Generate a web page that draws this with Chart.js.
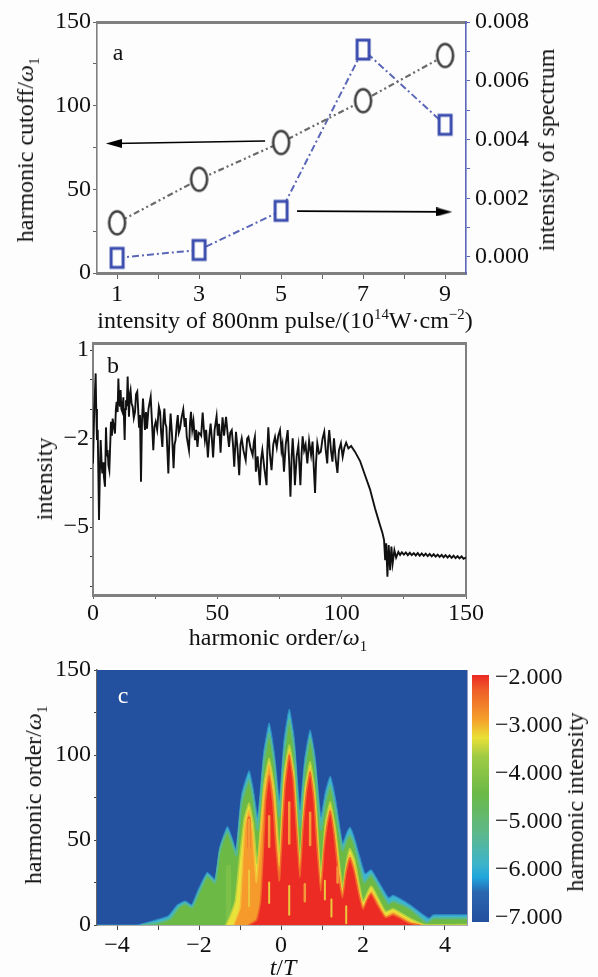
<!DOCTYPE html>
<html><head><meta charset="utf-8">
<script src="https://cdn.jsdelivr.net/npm/chart.js@4/dist/chart.umd.min.js"></script>
<style>
html,body{margin:0;padding:0;background:#fdfdfd;width:598px;height:977px;overflow:hidden}
canvas{position:absolute;left:0;filter:blur(.45px)}
.t{position:absolute;transform:translate(-50%,-50%);white-space:nowrap;font-family:"Liberation Serif",serif;font-size:24px;line-height:1;color:#111;filter:blur(.3px)}
.r{transform:translate(-50%,-50%) rotate(-90deg)}
.t sub,.t sup{font-size:.62em;line-height:0}
</style></head><body>
<canvas id="ca" width="598" height="330" style="top:0"></canvas>
<canvas id="cb" width="598" height="340" style="top:310px"></canvas>
<canvas id="cc" width="470" height="342" style="top:635px"></canvas>
<canvas id="cd" width="128" height="310" style="top:640px;left:470px"></canvas>
<div class="t r" style="left:25px;top:150px">harmonic cutoff/<i>ω</i><sub>1</sub></div>
<div class="t r" style="left:546px;top:150px">intensity of spectrum</div>
<div class="t" style="left:285px;top:320px">intensity of 800nm pulse/(10<sup>14</sup>W·cm<sup>−2</sup>)</div>
<div class="t" style="left:118px;top:52px">a</div>
<div class="t r" style="left:44px;top:479px">intensity</div>
<div class="t" style="left:278px;top:637px">harmonic order/<i>ω</i><sub>1</sub></div>
<div class="t" style="left:113px;top:365px">b</div>
<div class="t r" style="left:33px;top:795px">harmonic order/<i>ω</i><sub>1</sub></div>
<div class="t" style="left:283px;top:967px"><i>t</i>/<i>T</i></div>
<div class="t" style="left:123px;top:695px;color:#fff">c</div>
<div class="t r" style="left:575px;top:802px">harmonic intensity</div>
<script>
// ---------- panel a ----------
const pulseIntensity=[1,3,5,7,9];
const harmonicCutoff=[30,56,78,103,130];
const spectrumIntensity=[-0.00003,0.00024,0.00157,0.00706,0.0045];
const aXTicks=[1,2,3,4,5,6,7,8,9];
const aLeftTicks=[0,25,50,75,100,125,150];
const aRightTicks=[0,0.001,0.002,0.003,0.004,0.005,0.006,0.007,0.008];
const arrowLeft=[[4.61,78.9],[0.92,77.4]];
const arrowRight=[[5.39,37],[8.98,36.5]];
// ---------- panel b ----------
const spectrumLow=[[0,-2.84],[0.5,-1.0],[1.07,.21],[1.3,-1],[1.6,-2.05],[1.9,-1.7],[2.41,-4.76],[2.8,-3],[3.08,-2.05],[3.5,-2.9],[3.75,-3.18],[4.1,-2.8],[4.4,-3.3],[4.82,-3.63],[5.22,-1.62],[5.6,-2.6],[5.9,-2.39],[6.2,-2.9],[6.57,-3.07],[7.24,-1.43],[7.6,-1.9],[7.9,-1.32],[8.4,-1.6],[8.84,-1.83],[9.2,-1.0],[9.5,-.75],[9.9,-1.1],[10.2,.04],[10.5,-.7],[10.85,-.92],[11.1,-.35],[11.4,-1.0],[11.8,-1.09],[12.2,-.6],[12.73,-2.05],[13.0,-1.0],[13.27,-.7],[13.6,-.9],[13.94,.1],[14.2,-.7],[14.47,-1.26],[14.8,-.5],[15.1,-.36],[15.5,-.8],[15.95,-.92],[16.4,-1.3],[16.9,-1.09],[17.3,-.5],[17.8,-.41],[18.1,-.9],[18.5,-1.6],[18.9,-1.2],[19.3,-3.46],[19.7,-1.4],[20.1,-.64],[20.5,-1.2],[20.9,-1.71],[21.3,-1.1],[21.7,-1.66],[22.3,-1.0],[23.2,-.58],[23.7,-1.4],[24.25,-2.39],[24.7,-1.6],[25.2,-1.43],[25.8,-1.7],[26.5,-.92],[27,-1.1],[27.4,-1.8],[27.9,-2.28],[28.3,-1.4],[28.7,-.98],[29.1,-1.5],[29.5,-1.6],[30.3,-3.18],[30.8,-1.8],[31.2,-1.15],[31.8,-1.9],[32.4,-3.0],[32.8,-2.2],[33.2,-2.05],[33.7,-1.5],[34.1,-1.2],[34.5,-1.8],[35,-1.66]];
const spectrumMid=[[35.6,-1.3],[36.3,-1.01],[36.9,-1.6],[37.3,-1.3],[37.7,-1.94],[38.6,-2.39],[39,-1.5],[39.4,-1.09],[39.9,-1.7],[40.4,-1.4],[41,-2.05],[41.5,-1.7],[42,-2.28],[42.5,-1.8],[43,-1.83],[43.5,-1.9],[44.1,-1.12],[44.6,-1.7],[45,-2.05],[45.5,-1.7],[46.2,-2.64],[46.8,-1.9],[47.3,-1.49],[47.8,-2.0],[48.3,-2.64],[48.9,-1.7],[49.7,-1.24],[50.2,-1.9],[50.7,-1.5],[51.3,-2.48],[51.7,-1.8],[52.1,-1.28],[52.7,-1.9],[53.5,-1.26],[54.1,-1.8],[54.7,-2.28],[55.2,-1.8],[55.8,-1.71],[56.3,-2.2],[56.8,-2.95],[57.5,-1.77],[58.1,-2.3],[58.8,-3.24],[59.3,-2.2],[59.8,-1.99],[60.5,-2.4],[61.4,-2.73],[62,-2.0],[62.5,-1.94],[63.3,-2.3],[64.2,-2.56],[64.7,-2.1],[65.1,-1.94],[65.5,-3.12],[66.2,-2.6],[67.1,-3.58],[67.6,-2.7],[68.1,-2.39],[68.9,-3.0],[69.8,-3.58],[70.1,-2.4],[70.5,-1.62],[71.1,-2.5],[71.8,-3.07],[72.5,-2.2],[73.2,-1.94]];
const spectrumHigh=[[73.9,-2.3],[74.5,-1.9],[75.2,-1.71],[75.8,-2.4],[76.2,-2.2],[76.8,-3.12],[77.5,-2.2],[78.3,-1.71],[78.9,-2.8],[79.4,-3.97],[79.9,-2.6],[80.3,-1.99],[80.8,-2.7],[81.2,-3.58],[81.9,-2.6],[82.6,-2.22],[83,-2.9],[83.4,-3.58],[83.9,-2.5],[84.3,-1.92],[84.9,-2.4],[85.5,-2.2],[86.2,-2.84],[86.9,-2.07],[87.7,-2.56],[88.3,-2.1],[88.8,-3.0],[89.3,-3.84],[89.7,-2.8],[90.2,-2.16],[90.9,-2.5],[91.6,-2.45],[92.3,-2.0],[93,-1.77],[93.6,-2.4],[94.2,-2.84],[94.6,-2.1],[95,-1.71],[95.7,-2.4],[96.3,-2.78],[96.9,-1.99],[97.6,-2.7],[98.3,-3.16],[98.9,-2.4],[99.7,-2.16],[100.4,-2.62],[101.1,-2.3],[101.8,-2.14],[102.7,-2.33],[103.8,-2.25],[105.4,-2.45],[107.4,-2.76],[109.4,-3.24],[111.4,-3.72],[113.4,-4.36],[115.4,-4.93],[116.4,-5.2],[117.05,-5.44]];
const spectrumTail=[[117.5,-6.12],[117.9,-5.55],[118.4,-6.68],[118.9,-5.61],[119.5,-6.46],[120,-5.66],[120.5,-6.23],[121.2,-5.78],[121.9,-6.03],[122.8,-5.84],[123.5,-5.94],[124.2,-5.85],[125,-5.93],[125.8,-5.86],[126.6,-5.95],[127.4,-5.87],[128.2,-5.95],[129,-5.88],[129.8,-5.96],[130.6,-5.88],[131.4,-5.97],[132.2,-5.89],[133,-5.97],[133.8,-5.9],[134.6,-5.98],[135.4,-5.91],[136.2,-5.99],[137,-5.92],[137.8,-6.0],[138.6,-5.93],[139.4,-6.01],[140.2,-5.94],[141,-6.02],[141.8,-5.95],[142.6,-6.03],[143.4,-5.96],[144.2,-6.04],[145,-5.97],[145.8,-6.05],[146.6,-5.98],[147.4,-6.06],[148.2,-5.99],[149,-6.07],[150,-6.03]];
const bXTicks=[0,25,50,75,100,125,150];
const bYTicks=[1,0,-1,-2,-3,-4,-5,-6,-7];
const bYLabels=[1,-2,-5];
// ---------- panel c : contour outlines, [t/T, harmonic order] ----------
const contourCyan=[[-4.5,0],[-3.52,0],[-3.11,2.5],[-2.75,5.3],[-2.53,11.8],[-2.34,14.1],[-2.18,11.8],[-2.04,19.6],[-1.80,30.9],[-1.61,26.8],[-1.49,46],[-1.31,57.8],[-1.18,50],[-1.10,44],[-0.96,77],[-0.78,90.6],[-0.68,80],[-0.57,63.7],[-0.42,102],[-0.29,118.6],[-0.16,100],[-0.04,73.5],[0.07,108],[0.2,126.8],[0.32,110],[0.46,67.7],[0.58,98],[0.71,114.7],[0.83,99],[0.97,63.7],[1.08,78],[1.2,87.3],[1.33,74],[1.5,48],[1.6,54],[1.68,57.5],[1.78,52],[1.92,40],[2.05,30],[2.2,32.4],[2.62,16],[2.74,17.4],[3.15,11.8],[3.6,3.9],[3.72,5.9],[4.6,5.9]];
const contourGreen=[[-3.4,0],[-3.0,1.2],[-2.7,3.8],[-2.5,10.3],[-2.34,12.6],[-2.17,10.3],[-2.02,18],[-1.80,29],[-1.61,25],[-1.49,44],[-1.31,55],[-1.18,47],[-1.09,41],[-0.96,72],[-0.78,85.5],[-0.68,74],[-0.57,56],[-0.42,96],[-0.29,112.7],[-0.16,94],[-0.04,64],[0.07,100],[0.2,120.6],[0.32,103],[0.46,58],[0.58,92],[0.71,110],[0.83,93],[0.97,56],[1.08,72],[1.2,82],[1.33,68],[1.5,44],[1.6,50],[1.68,53],[1.78,48],[1.92,35],[2.03,25],[2.2,29.6],[2.62,12.5],[2.74,14],[3.15,9.5],[3.55,1.5],[3.72,3.9],[4.6,3.9]];
const contourYellow=[[-1.35,0],[-1.25,5],[-1.12,14],[-1.03,35],[-0.9,62],[-0.78,71.7],[-0.68,60],[-0.58,36],[-0.42,82],[-0.29,98],[-0.16,80],[-0.04,42],[0.07,88],[0.2,105.9],[0.32,90],[0.46,38],[0.58,80],[0.71,96],[0.83,78],[0.97,30],[1.08,60],[1.2,72.5],[1.33,56],[1.5,22],[1.6,38],[1.68,45],[1.8,38],[2.0,14],[2.2,23],[2.55,8],[2.74,9.5],[3.15,3.9],[3.5,0.3],[4.6,0.3]];
const contourOrange=[[-1.15,0],[-1.0,10],[-0.95,30],[-0.88,58],[-0.78,67.6],[-0.69,54],[-0.6,25],[-0.42,76],[-0.29,94.5],[-0.16,74],[-0.04,35],[0.07,82],[0.2,102],[0.32,84],[0.46,32],[0.58,75],[0.71,92],[0.83,73],[0.97,24],[1.08,55],[1.2,69],[1.33,52],[1.5,18],[1.6,34],[1.68,41.2],[1.8,34],[2.0,11],[2.2,20],[2.55,5.5],[2.74,7.5],[3.15,2],[3.45,0]];
const contourRed=[[-0.8,0],[-0.6,3],[-0.5,14],[-0.44,40],[-0.38,72],[-0.29,88],[-0.2,72],[-0.12,45],[-0.04,26],[0.04,60],[0.1,82],[0.2,100],[0.3,84],[0.38,55],[0.46,28],[0.53,55],[0.62,78],[0.71,90],[0.8,74],[0.88,45],[0.97,20],[1.05,45],[1.12,58],[1.2,67],[1.29,54],[1.4,30],[1.5,16],[1.58,30],[1.68,39.5],[1.78,32],[1.9,18],[2.0,9.5],[2.1,15],[2.2,18.5],[2.35,12],[2.55,4.5],[2.74,6],[3.15,1],[3.4,0]];
const streaksYellow=[[-0.78,32],[-0.78,11],null,[-0.29,25],[-0.29,13],null,[0.2,23],[0.2,6],null,[1.23,15],[1.23,5],null,[1.07,26],[1.07,15],null,[1.59,11],[1.59,1]];
const streaksOrange=[[-0.29,64],[-0.29,46],null,[0.2,72],[0.2,48],null,[0.71,66],[0.71,47],null,[1.38,34],[1.38,25],null,[0.58,24],[0.58,14],null,[-0.78,62],[-0.78,40]];
const streaksRed=[[-0.78,63],[-0.78,46]];
const streaksLightGreen=[[-1.28,34],[-1.28,3]];
const cXTicks=[-4,-3,-2,-1,0,1,2,3,4];
const cYTicks=[0,25,50,75,100,125,150];
// ---------- colour bar ----------
const barTicks=[-2,-3,-4,-5,-6,-7];
const barRange=[-7.08,-1.94];
const barStops=[0,.06,.18,.255,.33,.48,.64,.76,.82,.88,1];
const barColors=['#ec2a26','#ef5d28','#f4a02c','#e9e035','#9fcb45','#6bb947','#5db88a','#3fb4c8','#1fa6dc','#2a66b0','#234f9f'];

const F='"Liberation Serif",serif', GR='#808080', BL='#5a66b8', BG='#23509f', FS=24;
const pairs=a=>a.map(p=>p?{x:p[0],y:p[1]}:{x:null,y:null});
const fixTicks=v=>s=>{s.ticks=v.map(x=>({value:x}))};
const size=(p,n)=>s=>{s[p]=n};
const minus=v=>(v<0?'−':'')+Math.abs(v);

function mark(w,h,col,lw,round){
  const c=document.createElement('canvas');c.width=w+lw*2;c.height=h+lw*2;
  const g=c.getContext('2d');g.lineWidth=lw;g.strokeStyle=col;g.fillStyle='#fdfdfd';
  g.beginPath();
  if(round)g.ellipse(c.width/2,c.height/2,w/2,h/2,0,0,Math.PI*2);
  else g.rect(lw,lw,w,h);
  g.fill();g.stroke();return c;
}
function arrowHead(dir){
  const c=document.createElement('canvas');c.width=16;c.height=9;
  const g=c.getContext('2d');g.fillStyle='#000';g.beginPath();
  if(dir<0){g.moveTo(0,4.5);g.lineTo(16,0);g.lineTo(16,9);}
  else{g.moveTo(16,4.5);g.lineTo(0,0);g.lineTo(0,9);}
  g.fill();return c;
}
const base={responsive:false,animation:false,devicePixelRatio:1,events:[],plugins:{legend:{display:false},tooltip:{enabled:false}}};
const hiddenTop={position:'top',type:'linear',grid:{drawOnChartArea:false,drawTicks:false},ticks:{display:false},afterFit:size('height',0)};

// panel a
new Chart(document.getElementById('ca'),{type:'line',data:{datasets:[
 {data:pairs(arrowLeft),yAxisID:'y',borderColor:'#000',borderWidth:1.6,pointRadius:[0,8],pointStyle:[false,arrowHead(-1)]},
 {data:pairs(arrowRight),yAxisID:'y',borderColor:'#000',borderWidth:1.6,pointRadius:[0,8],pointStyle:[false,arrowHead(1)]},
 {data:pulseIntensity.map((x,i)=>({x,y:harmonicCutoff[i]})),yAxisID:'y',borderColor:'#6a6a6a',borderWidth:2.2,borderDash:[6,3,2,3,2,3],pointStyle:mark(16,23,'#3f3f3f',2.6,true),pointRadius:10},
 {data:pulseIntensity.map((x,i)=>({x,y:spectrumIntensity[i]})),yAxisID:'y2',borderColor:BL,borderWidth:2,borderDash:[7,3,2,3],pointStyle:mark(12,19,'#3a4cae',3,false),pointRadius:10}
]},options:{...base,layout:{padding:{top:22}},clip:false,scales:{
 x:{type:'linear',min:.51,max:9.51,afterBuildTicks:fixTicks(aXTicks),afterFit:size('height',57),
    border:{color:GR,width:3},grid:{drawOnChartArea:false,tickLength:6,tickColor:'#666'},
    ticks:{padding:1,autoSkip:false,maxRotation:0,color:'#111',font:{family:F,size:FS},callback:v=>v%2?String(v):''}},
 xt:{...hiddenTop,min:.51,max:9.51,border:{color:GR,width:3}},
 y:{position:'left',min:0,max:150,afterBuildTicks:fixTicks(aLeftTicks),afterFit:size('width',97),
    border:{color:GR,width:1.6},grid:{drawOnChartArea:false,tickLength:4,tickColor:'#666'},
    ticks:{padding:2,autoSkip:false,color:'#111',font:{family:F,size:FS},callback:v=>v%50?'':String(v)}},
 y2:{position:'right',min:-0.000545,max:.008,afterBuildTicks:fixTicks(aRightTicks),afterFit:size('width',132),
    border:{color:BL,width:1.6},grid:{drawOnChartArea:false,tickLength:4,tickColor:BL},
    ticks:{padding:5,autoSkip:false,color:'#111',font:{family:F,size:FS},callback:v=>Math.round(v*1000)%2?'':v.toFixed(3)}}
}}});

// panel b
new Chart(document.getElementById('cb'),{type:'line',data:{datasets:[
 {data:pairs([...spectrumLow,...spectrumMid,...spectrumHigh,...spectrumTail]),borderColor:'#111',borderWidth:1.9,pointRadius:0,tension:0}
]},options:{...base,layout:{padding:{top:33}},scales:{
 x:{type:'linear',min:0,max:150,afterBuildTicks:fixTicks(bXTicks),afterFit:size('height',55),
    border:{color:GR,width:3},grid:{drawOnChartArea:false,tickLength:4,tickColor:'#666'},
    ticks:{padding:0,autoSkip:false,maxRotation:0,color:'#111',font:{family:F,size:FS},callback:v=>v%50?'':String(v)}},
 xt:{...hiddenTop,min:0,max:150,border:{color:GR,width:3}},
 y:{position:'left',min:-7.3,max:1.24,afterBuildTicks:fixTicks(bYTicks),afterFit:size('width',93),
    border:{color:GR,width:2},grid:{drawOnChartArea:false,tickLength:3,tickColor:'#333'},
    ticks:{padding:1,autoSkip:false,color:'#111',font:{family:F,size:FS},callback:v=>bYLabels.includes(v)?minus(v):''}},
 yr:{position:'right',min:-7.3,max:1.24,grid:{drawOnChartArea:false,drawTicks:false},ticks:{display:false},border:{color:GR,width:2},afterFit:size('width',132)}
}}});

// panel c
const fillLayer=(arr,fill,edge,w)=>({data:pairs(arr),backgroundColor:fill,borderColor:edge,borderWidth:w,fill:'start',pointRadius:0,tension:.15});
const streak=(arr,col,w)=>({data:pairs(arr),borderColor:col,borderWidth:w,pointRadius:0,spanGaps:false,borderCapStyle:'round'});
new Chart(document.getElementById('cc'),{type:'line',data:{datasets:[
 streak(streaksYellow,'#ecc83e',2),
 streak(streaksOrange,'#f5983a',2.5),
 streak(streaksRed,'#ee5a2a',3),
 fillLayer(contourRed,'#ec2c24','#ef6a28',1.5),
 fillLayer(contourOrange,'#f59a2b','#f4c038',1.5),
 fillLayer(contourYellow,'#e9e23a','#b4d040',1.5),
 streak(streaksLightGreen,'#7cc04a',5),
 fillLayer(contourGreen,'#6cb945','#58b890',2),
 fillLayer(contourCyan,'#3fb6d0','#2f8ec4',1.2)
]},options:{...base,layout:{padding:{top:35}},scales:{
 x:{type:'linear',min:-4.49,max:4.537,afterBuildTicks:fixTicks(cXTicks),afterFit:size('height',52),
    border:{color:'#666',width:1.5},grid:{drawOnChartArea:false,tickLength:5,tickColor:'#444'},
    ticks:{padding:1,autoSkip:false,maxRotation:0,color:'#111',font:{family:F,size:FS},callback:v=>v%2?'':minus(v)}},
 xt:{...hiddenTop,min:-4.49,max:4.537,border:{color:'#7d80b8',width:1}},
 y:{position:'left',min:0,max:150,afterBuildTicks:fixTicks(cYTicks),afterFit:size('width',97),
    border:{color:'#666',width:1.5},grid:{drawOnChartArea:false,tickLength:3,tickColor:'#444'},
    ticks:{padding:3,autoSkip:false,color:'#111',font:{family:F,size:FS},callback:v=>v%50?'':String(v)}},
 yr:{position:'right',min:0,max:150,grid:{drawOnChartArea:false,drawTicks:false},ticks:{display:false},border:{color:'#9a9ac4',width:1},afterFit:size('width',3)}
}},plugins:[{id:'plotBg',beforeDatasetsDraw(c){const a=c.chartArea,g=c.ctx;g.save();g.fillStyle=BG;g.fillRect(a.left,a.top,a.right-a.left,a.bottom-a.top);g.restore();}}]});

// colour bar
new Chart(document.getElementById('cd'),{type:'bar',data:{labels:['intensity'],datasets:[
 {data:[barRange],barPercentage:1,categoryPercentage:1,backgroundColor(ctx){
   const a=ctx.chart.chartArea;if(!a)return barColors[5];
   const gr=ctx.chart.ctx.createLinearGradient(0,a.top,0,a.bottom);
   barStops.forEach((s,i)=>gr.addColorStop(s,barColors[i]));return gr;}}
]},options:{...base,layout:{padding:{left:2,top:35,bottom:28}},scales:{
 x:{display:false},
 y:{position:'right',min:barRange[0],max:barRange[1],afterBuildTicks:fixTicks(barTicks),afterFit:size('width',109),
    border:{display:false},grid:{display:false,drawTicks:false},
    ticks:{padding:6,autoSkip:false,color:'#111',font:{family:F,size:FS},callback:v=>'−'+Math.abs(v).toFixed(3)}}
}}});
</script>
</body></html>
